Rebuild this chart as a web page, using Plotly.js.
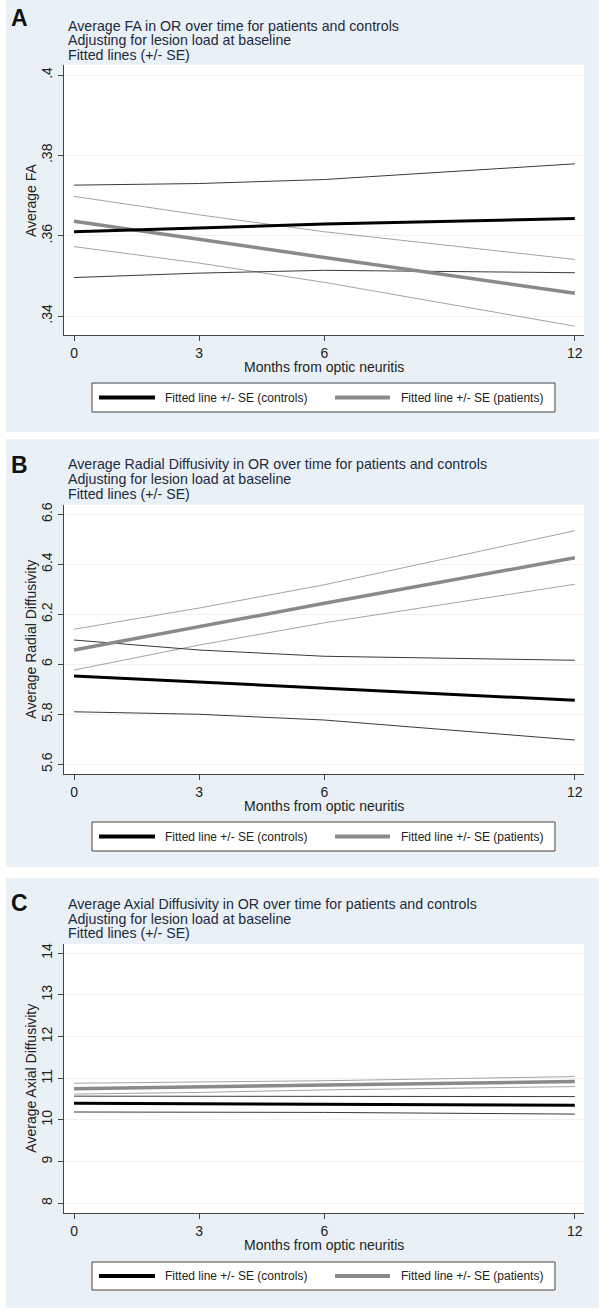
<!DOCTYPE html>
<html>
<head>
<meta charset="utf-8">
<script src="https://cdn.plot.ly/plotly-3.0.1.min.js"></script>
<style>html,body{margin:0;padding:0;background:#fff;} #chart{width:616px;height:1313px;}</style>
</head>
<body>
<div id="chart"></div>
<script>
// ---------- data ----------
const months = [0, 3, 6, 12];
const xTickVals = [0, 3, 6, 12];

// Panel A: Average FA
const faCtrlFit = [0.3610, 0.3619, 0.3629, 0.3643];
const faCtrlHi  = [0.3726, 0.3730, 0.3740, 0.3779];
const faCtrlLo  = [0.3496, 0.3507, 0.3514, 0.3508];
const faPatFit  = [0.3636, 0.3592, 0.3546, 0.3457];
const faPatHi   = [0.3698, 0.3652, 0.3610, 0.3541];
const faPatLo   = [0.3573, 0.3532, 0.3484, 0.3375];
const faTickVals = [0.34, 0.36, 0.38, 0.40];
const faTickText = [".34", ".36", ".38", ".4"];

// Panel B: Average Radial Diffusivity
const rdCtrlFit = [5.953, 5.928, 5.905, 5.856];
const rdCtrlHi  = [6.097, 6.057, 6.032, 6.016];
const rdCtrlLo  = [5.810, 5.800, 5.777, 5.697];
const rdPatFit  = [6.057, 6.150, 6.244, 6.426];
const rdPatHi   = [6.140, 6.225, 6.318, 6.534];
const rdPatLo   = [5.977, 6.077, 6.166, 6.320];
const rdTickVals = [5.6, 5.8, 6.0, 6.2, 6.4, 6.6];
const rdTickText = ["5.6", "5.8", "6", "6.2", "6.4", "6.6"];

// Panel C: Average Axial Diffusivity
const adCtrlFit = [10.40, 10.39, 10.38, 10.35];
const adCtrlHi  = [10.57, 10.57, 10.56, 10.56];
const adCtrlLo  = [10.19, 10.19, 10.18, 10.14];
const adPatFit  = [10.75, 10.79, 10.84, 10.92];
const adPatHi   = [10.88, 10.91, 10.94, 11.04];
const adPatLo   = [10.62, 10.66, 10.72, 10.80];
const adTickVals = [8, 9, 10, 11, 12, 13, 14];
const adTickText = ["8", "9", "10", "11", "12", "13", "14"];

const panelLetters = ["A", "B", "C"];
const titleLines = [
  ["Average FA in OR over time for patients and controls", "Adjusting for lesion load at baseline", "Fitted lines (+/- SE)"],
  ["Average Radial Diffusivity in OR over time for patients and controls", "Adjusting for lesion load at baseline", "Fitted lines (+/- SE)"],
  ["Average Axial Diffusivity in OR over time for patients and controls", "Adjusting for lesion load at baseline", "Fitted lines (+/- SE)"]
];
const yTitles = ["Average FA", "Average Radial Diffusivity", "Average Axial Diffusivity"];
const xTitle = "Months from optic neuritis";
const legendLabels = ["Fitted line +/- SE (controls)", "Fitted line +/- SE (patients)"];

// ---------- layout geometry ----------
const W = 616, H = 1313;
const px = v => v / W;
const py = v => 1 - v / H;
const FONT = "Liberation Sans, Arial, Helvetica, sans-serif";
const TITLE_COL = "#1d2940";
const TXT = "#222";
const BG = "#eaf1f6";
const CTRL_COL = "#000000";
const CTRL_SE = "#3a3a3a";
const PAT_COL = "#8a8a8a";
const PAT_SE = "#a3a3a3";

const panels = [
  {bgTop: 0,   bgBot: 432,  plotTop: 65,  plotBot: 335,    letterY: 18,  titleY: [25.5, 40, 55],  legTop: 383, legBot: 412, yrange: [0.3353, 0.4025], tv: faTickVals, tt: faTickText,
   d: {cf: faCtrlFit, ch: faCtrlHi, cl: faCtrlLo, pf: faPatFit, ph: faPatHi, pl: faPatLo}},
  {bgTop: 439, bgBot: 867,  plotTop: 505, plotBot: 774.3,  letterY: 465, titleY: [464, 479, 494], legTop: 822, legBot: 851, yrange: [5.56, 6.637], tv: rdTickVals, tt: rdTickText,
   d: {cf: rdCtrlFit, ch: rdCtrlHi, cl: rdCtrlLo, pf: rdPatFit, ph: rdPatHi, pl: rdPatLo}},
  {bgTop: 878, bgBot: 1308, plotTop: 944, plotBot: 1213.3, letterY: 903, titleY: [904, 918.5, 933], legTop: 1262, legBot: 1290, yrange: [7.76, 14.22], tv: adTickVals, tt: adTickText,
   d: {cf: adCtrlFit, ch: adCtrlHi, cl: adCtrlLo, pf: adPatFit, ph: adPatHi, pl: adPatLo}}
];
const plotL = 64, plotR = 584;

const traces = [];
const shapes = [];
const annotations = [];
const layout = {
  width: W, height: H,
  margin: {l: 0, r: 0, t: 0, b: 0},
  paper_bgcolor: "#ffffff",
  plot_bgcolor: "rgba(0,0,0,0)",
  showlegend: false,
  font: {family: FONT, color: TXT, size: 14}
};

panels.forEach((p, i) => {
  const sfx = i === 0 ? "" : String(i + 1);
  const xa = "x" + sfx, ya = "y" + sfx;

  // background panel and white plot region
  shapes.push({type: "rect", xref: "paper", yref: "paper", layer: "below",
    x0: px(6), x1: px(599), y0: py(p.bgBot), y1: py(p.bgTop), fillcolor: BG, line: {width: 0}});
  shapes.push({type: "rect", xref: "paper", yref: "paper", layer: "below",
    x0: px(plotL), x1: px(plotR), y0: py(p.plotBot), y1: py(p.plotTop), fillcolor: "#ffffff", line: {width: 0}});

  layout["xaxis" + sfx] = {
    domain: [px(plotL), px(plotR)], anchor: ya, range: [-0.24, 12.22],
    tickvals: xTickVals, ticktext: xTickVals.map(String),
    ticks: "outside", ticklen: 5, tickcolor: "#444", tickwidth: 1,
    showline: true, linecolor: "#444", linewidth: 1,
    showgrid: false, zeroline: false,
    tickfont: {size: 14, color: TXT, family: FONT}
  };
  layout["yaxis" + sfx] = {
    domain: [py(p.plotBot), py(p.plotTop)], anchor: xa, range: p.yrange,
    tickvals: p.tv, ticktext: p.tt, tickangle: -90,
    ticks: "outside", ticklen: 5, tickcolor: "#444", tickwidth: 1,
    showline: true, linecolor: "#444", linewidth: 1,
    showgrid: true, gridcolor: "#edf2f4", gridwidth: 1, zeroline: false,
    tickfont: {size: 14, color: TXT, family: FONT}
  };

  const mk = (y, color, width, name) => ({
    type: "scatter", mode: "lines", x: months, y: y, xaxis: xa, yaxis: ya,
    line: {color: color, width: width, shape: "linear"}, name: name, hoverinfo: "x+y"
  });
  traces.push(mk(p.d.ph, PAT_SE, 1, "patients +SE"));
  traces.push(mk(p.d.pl, PAT_SE, 1, "patients -SE"));
  traces.push(mk(p.d.ch, CTRL_SE, 1, "controls +SE"));
  traces.push(mk(p.d.cl, CTRL_SE, 1, "controls -SE"));
  traces.push(mk(p.d.pf, PAT_COL, 3.5, legendLabels[1]));
  traces.push(mk(p.d.cf, CTRL_COL, 3, legendLabels[0]));

  // panel letter
  annotations.push({xref: "paper", yref: "paper", x: px(20), y: py(p.letterY), text: "<b>" + panelLetters[i] + "</b>",
    showarrow: false, xanchor: "center", yanchor: "middle", font: {size: 23, color: "#111", family: FONT}});
  // title lines
  titleLines[i].forEach((t, k) => {
    annotations.push({xref: "paper", yref: "paper", x: px(66), y: py(p.titleY[k]), text: t,
      showarrow: false, xanchor: "left", yanchor: "middle", font: {size: 14.2, color: TITLE_COL, family: FONT}});
  });
  // y title
  annotations.push({xref: "paper", yref: "paper", x: px(31), y: py((p.plotTop + p.plotBot) / 2), text: yTitles[i],
    textangle: -90, showarrow: false, xanchor: "center", yanchor: "middle", font: {size: 14, color: TXT, family: FONT}});
  // x title
  annotations.push({xref: "paper", yref: "paper", x: px((plotL + plotR) / 2), y: py(p.plotBot + 32), text: xTitle,
    showarrow: false, xanchor: "center", yanchor: "middle", font: {size: 14, color: TXT, family: FONT}});

  // legend box
  const lc = (p.legTop + p.legBot) / 2;
  shapes.push({type: "rect", xref: "paper", yref: "paper", layer: "above",
    x0: px(92), x1: px(555), y0: py(p.legBot), y1: py(p.legTop), fillcolor: "#ffffff", line: {color: "#444", width: 1}});
  shapes.push({type: "line", xref: "paper", yref: "paper", layer: "above",
    x0: px(99), x1: px(155), y0: py(lc), y1: py(lc), line: {color: CTRL_COL, width: 4}});
  shapes.push({type: "line", xref: "paper", yref: "paper", layer: "above",
    x0: px(335), x1: px(390), y0: py(lc), y1: py(lc), line: {color: PAT_COL, width: 4}});
  annotations.push({xref: "paper", yref: "paper", x: px(163), y: py(lc), text: legendLabels[0],
    showarrow: false, xanchor: "left", yanchor: "middle", font: {size: 12, color: TXT, family: FONT}});
  annotations.push({xref: "paper", yref: "paper", x: px(399), y: py(lc), text: legendLabels[1],
    showarrow: false, xanchor: "left", yanchor: "middle", font: {size: 12, color: TXT, family: FONT}});
});

layout.shapes = shapes;
layout.annotations = annotations;

Plotly.newPlot("chart", traces, layout, {staticPlot: true, displayModeBar: false});
</script>
</body>
</html>
